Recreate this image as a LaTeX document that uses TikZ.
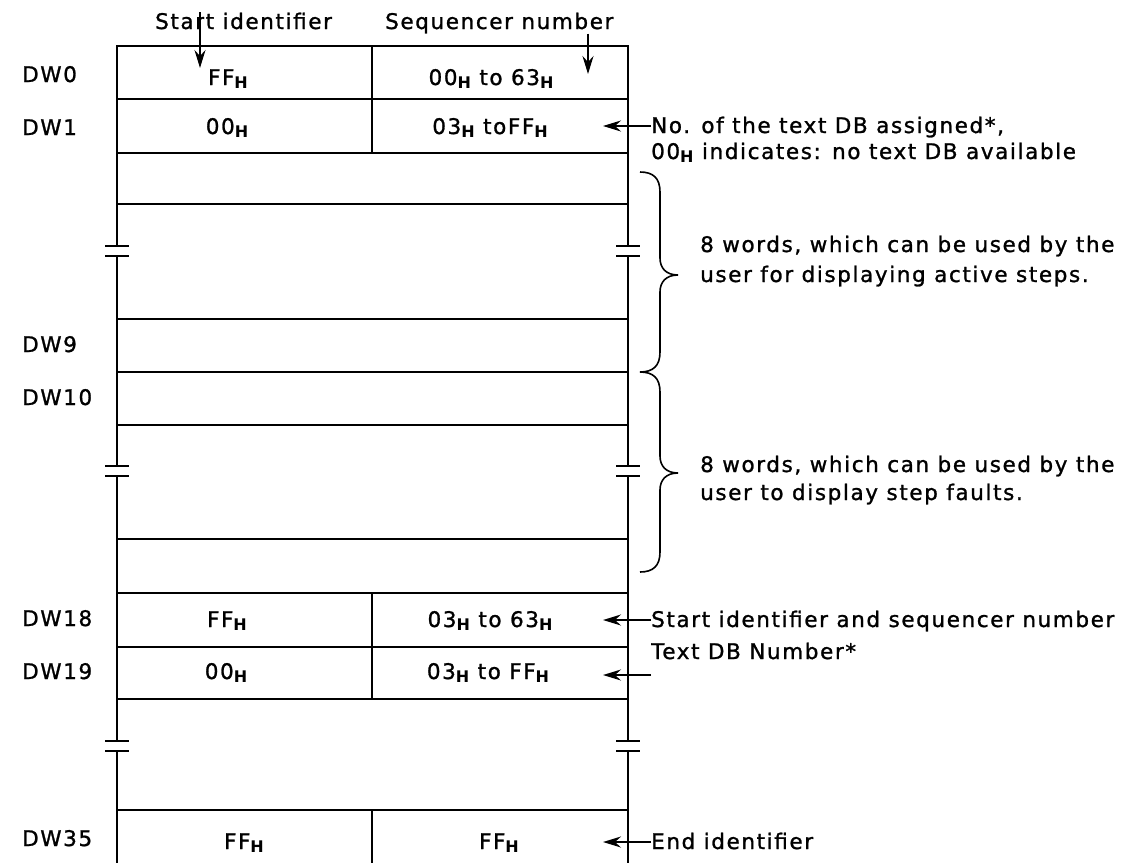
\documentclass[tikz,border=0pt]{standalone}
\usepackage{fontspec}
\setmainfont{DejaVu Sans}[LetterSpace=7.5, UprightFeatures={FakeBold=1.2}]
\usetikzlibrary{arrows.meta}

% bold, lowered "H" used as the hexadecimal marker
\newcommand\Hs{\raisebox{-3.5pt}{\fontsize{16}{16}\selectfont\bfseries H}}

\begin{document}
\begin{tikzpicture}[x=1pt,y=-1pt,
  frame/.style={line width=2pt},
  tick/.style={line width=1.8pt},
  brc/.style={line width=1.6pt},
  txt/.style={font=\fontsize{21.5}{25}\selectfont, inner sep=0pt, anchor=base west},
  ctxt/.style={font=\fontsize{21.5}{25}\selectfont, inner sep=0pt, anchor=base},
  arr/.style={line width=1.6pt, -{Stealth[length=18pt,width=11pt,inset=6pt]}},
]
\useasboundingbox (0,0) rectangle (1121,863);

% horizontal row boundaries
\foreach \y in {46,99,153,204,319,372,425,539,593,647,699,810}
  \draw[frame] (117,\y) -- (628,\y);

% column divider of the two-byte rows
\draw[frame] (372,46) -- (372,153);
\draw[frame] (372,593) -- (372,699);
\draw[frame] (372,810) -- (372,863);

% outer walls, interrupted by break symbols
\foreach \x in {117,628} {
  \draw[frame] (\x,45) -- (\x,246);
  \draw[frame] (\x,256) -- (\x,466);
  \draw[frame] (\x,476) -- (\x,741);
  \draw[frame] (\x,751) -- (\x,863);
  \foreach \y in {246,256,466,476,741,751}
    \draw[tick] (\x-12,\y) -- (\x+12,\y);
}

% word labels
\node[txt] (dw0)  at (22,82)  {DW0};
\node[txt] (dw1)  at (22,135) {DW1};
\node[txt] (dw9)  at (22,352) {DW9};
\node[txt] (dw10) at (22,405) {DW10};
\node[txt] (dw18) at (22,626) {DW18};
\node[txt] (dw19) at (22,679) {DW19};
\node[txt] (dw35) at (22,846) {DW35};

% cell contents
\node[ctxt] (c0l)  at (228,85)  {FF\Hs};
\node[ctxt] (c0r)  at (491,85)  {00\Hs{} to 63\Hs};
\node[ctxt] (c1l)  at (227,134) {00\Hs};
\node[ctxt] (c1r)  at (490,134) {03\Hs{} toFF\Hs};
\node[ctxt] (c18l) at (227,627) {FF\Hs};
\node[ctxt] (c18r) at (490,627) {03\Hs{} to 63\Hs};
\node[ctxt] (c19l) at (226,679) {00\Hs};
\node[ctxt] (c19r) at (488,679) {03\Hs{} to FF\Hs};
\node[ctxt] (c35l) at (244,849) {FF\Hs};
\node[ctxt] (c35r) at (499,849) {FF\Hs};

% headings above the table
\node[txt] (tsi) at (155,29) {Start identifier};
\node[txt] (tsn) at (385,29) {Sequencer number};
\coordinate (si) at (200,68);
\coordinate (sn) at (588,74);
\draw[arr] (tsi.north -| si) -- (si);
\draw[arr] (tsn.south -| sn) -- (sn);

% notes on the right
\node[txt] (r1a) at (651,133) {No. of the text DB assigned*,};
\node[txt] (r1b) at (651,159) {00\Hs{} indicates: no text DB available};
\node[txt] (r2a) at (700,252) {8 words, which can be used by the};
\node[txt] (r2b) at (700,282) {user for displaying active steps.};
\node[txt] (r3a) at (700,472) {8 words, which can be used by the};
\node[txt] (r3b) at (700,500) {user to display step faults.};
\node[txt] (r4)  at (651,627) {Start identifier and sequencer number};
\node[txt] (r5)  at (651,659) {Text DB Number*};
\node[txt] (r6)  at (651,849) {End identifier};

\coordinate (p1)  at (603,126);
\coordinate (p18) at (603,620);
\coordinate (p19) at (603,675);
\coordinate (p35) at (603,842);
\draw[arr] (r1a.west |- p1)  -- (p1);
\draw[arr] (r4.west |- p18)  -- (p18);
\draw[arr] (r5.west |- p19)  -- (p19);
\draw[arr] (r6.west |- p35)  -- (p35);

% braces grouping the user words
\draw[brc] (640,172) .. controls (653,172) and (660,178) .. (660,192)
  -- (660,258) .. controls (660,268) and (666,275) .. (678,275)
  .. controls (666,275) and (660,282) .. (660,292)
  -- (660,352) .. controls (660,366) and (653,372) .. (640,372);
\draw[brc] (640,372) .. controls (653,372) and (660,378) .. (660,392)
  -- (660,456) .. controls (660,466) and (666,473) .. (678,473)
  .. controls (666,473) and (660,480) .. (660,490)
  -- (660,552) .. controls (660,566) and (653,572) .. (640,572);
\end{tikzpicture}
\end{document}
